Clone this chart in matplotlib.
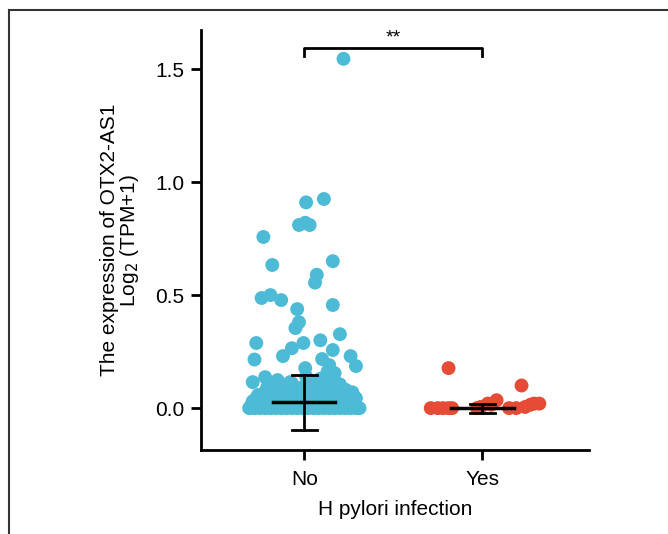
import matplotlib
matplotlib.use("Agg")
import matplotlib.pyplot as plt
from matplotlib.lines import Line2D

plt.rcParams['font.family'] = ['Liberation Sans', 'DejaVu Sans']

groups = ["No", "Yes"]
colors = ["#4DBBD5", "#E64B35"]

# jitter offset / expression value, H pylori negative
no_offset = [0.22, 0.01, 0.11, -0.03, 0.005, 0.03, -0.23, -0.18, 0.16, 0.07, 0.06,
             -0.24, -0.19, -0.13, 0.16, -0.04, -0.03, -0.05, 0.20, -0.27, -0.005, 0.09,
             -0.07, 0.16, -0.28, -0.12, 0.10, 0.26, 0.29, 0.005, 0.14, -0.29, -0.22,
             0.17, 0.18, -0.15, 0.06, 0.09, -0.08, 0.13, 0.19, -0.26, 0.29, 0.22, -0.10,
             -0.31, -0.28, -0.25, -0.22, -0.19, -0.16, -0.13, -0.10, -0.07, -0.04, -0.01,
             0.02, 0.05, 0.08, 0.11, 0.14, 0.17, 0.20, 0.23, 0.26, 0.29, 0.31,
             -0.30, -0.26, -0.21, -0.17, -0.12, -0.08, -0.03, 0.01, 0.06, 0.10, 0.15,
             0.19, 0.24, 0.28, -0.29, -0.24, -0.18, -0.14, -0.09, -0.05, 0.00, 0.04,
             0.09, 0.12, 0.18, 0.22, 0.27, -0.27, -0.20, -0.11, -0.06, 0.03, 0.07,
             0.13, 0.21, 0.25, -0.23, -0.15, -0.02, 0.08, 0.16, -0.17, 0.11, 0.02,
             -0.12, 0.18, -0.07, 0.23,
             -0.25, -0.21, -0.16, -0.11, -0.06, -0.01, 0.04, 0.10, 0.15, 0.20, 0.25,
             -0.19, -0.14, -0.09, -0.04, 0.05, 0.14, 0.24, -0.13, -0.02, 0.07, 0.12,
             0.17, -0.08, 0.01, 0.20, -0.21, 0.27, 0.15, -0.16]
no_value = [1.545, 0.91, 0.925, 0.81, 0.82, 0.81, 0.757, 0.633, 0.65, 0.59, 0.555,
            0.487, 0.50, 0.478, 0.456, 0.438, 0.38, 0.354, 0.327, 0.288, 0.288, 0.30,
            0.265, 0.257, 0.215, 0.23, 0.217, 0.23, 0.186, 0.177, 0.19, 0.115, 0.137,
            0.155, 0.11, 0.124, 0.093, 0.13, 0.095, 0.16, 0.085, 0.058, 0.044, 0.07, 0.075,
            0.0, 0.0, 0.0, 0.0, 0.0, 0.0, 0.0, 0.0, 0.0, 0.0, 0.0,
            0.0, 0.0, 0.0, 0.0, 0.0, 0.0, 0.0, 0.0, 0.0, 0.0, 0.0,
            0.01, 0.012, 0.008, 0.015, 0.01, 0.006, 0.012, 0.01, 0.014, 0.008, 0.01,
            0.012, 0.009, 0.015, 0.03, 0.025, 0.035, 0.02, 0.028, 0.022, 0.03, 0.026,
            0.033, 0.02, 0.027, 0.031, 0.036, 0.045, 0.05, 0.04, 0.055, 0.048, 0.042,
            0.052, 0.046, 0.041, 0.065, 0.06, 0.07, 0.062, 0.058, 0.08, 0.075, 0.1,
            0.085, 0.068, 0.11, 0.082,
            0.02, 0.04, 0.03, 0.05, 0.035, 0.045, 0.025, 0.04, 0.05, 0.03, 0.04,
            0.065, 0.075, 0.06, 0.08, 0.07, 0.09, 0.06, 0.1, 0.09, 0.12, 0.1,
            0.12, 0.115, 0.14, 0.105, 0.09, 0.07, 0.135, 0.1]

# jitter offset / expression value, H pylori positive
yes_offset = [-0.29, -0.25, -0.22, -0.19, -0.17, -0.19, -0.03, -0.01, 0.03, 0.08,
              0.05, 0.15, 0.19, 0.22, 0.24, 0.27, 0.29, 0.32]
yes_value = [0.0, 0.0, 0.0, 0.0, 0.0, 0.177, 0.0, 0.005, 0.02, 0.035,
             0.015, 0.0, 0.0, 0.1, 0.005, 0.015, 0.02, 0.02]

# centre line and error bar bounds per group
centre = [0.025, 0.0]
lower = [-0.095, -0.02]
upper = [0.145, 0.02]

fig = plt.figure(figsize=(6.68, 5.34), dpi=100)
ax = fig.add_axes([0.301, 0.157, 0.581, 0.787])

ax.scatter([1 + o for o in no_offset], no_value, s=100, color=colors[0],
           edgecolors="none", zorder=2)
ax.scatter([2 + o for o in yes_offset], yes_value, s=100, color=colors[1],
           edgecolors="none", zorder=2)

for i in range(2):
    xc = i + 1
    ax.plot([xc - 0.175, xc + 0.175], [centre[i], centre[i]], color="black", lw=2.5, zorder=3)
    ax.plot([xc, xc], [lower[i], upper[i]], color="black", lw=2, zorder=3)
    for yb in (lower[i], upper[i]):
        ax.plot([xc - 0.07, xc + 0.07], [yb, yb], color="black", lw=2, zorder=3)

# significance bracket
ax.plot([1, 1, 2, 2], [1.558, 1.593, 1.593, 1.558], color="black", lw=2, clip_on=False)
ax.text(1.5, 1.6, "**", ha="center", va="bottom", fontsize=14)

ax.set_xlim(0.42, 2.6)
ax.set_ylim(-0.186, 1.673)
ax.set_xticks([1, 2])
ax.set_xticklabels(groups)
ax.set_yticks([0.0, 0.5, 1.0, 1.5])
ax.set_yticklabels(["0.0", "0.5", "1.0", "1.5"])
ax.tick_params(labelsize=15, width=2, length=7, colors="black", pad=5)
ax.tick_params(axis="x", pad=7)
for side in ("top", "right"):
    ax.spines[side].set_visible(False)
for side in ("left", "bottom"):
    ax.spines[side].set_linewidth(2)

ax.set_xlabel("H pylori infection", fontsize=15, labelpad=8)
ax.set_ylabel("The expression of OTX2-AS1\nLog$_2$ (TPM+1)", fontsize=15,
              linespacing=0.95, labelpad=10)

# outer frame
fig.add_artist(Line2D([0.013, 0.013], [0.0, 0.981], color="#333333", lw=1.5))
fig.add_artist(Line2D([0.013, 1.0], [0.981, 0.981], color="#333333", lw=1.5))

fig.savefig("out.png", dpi=100)
